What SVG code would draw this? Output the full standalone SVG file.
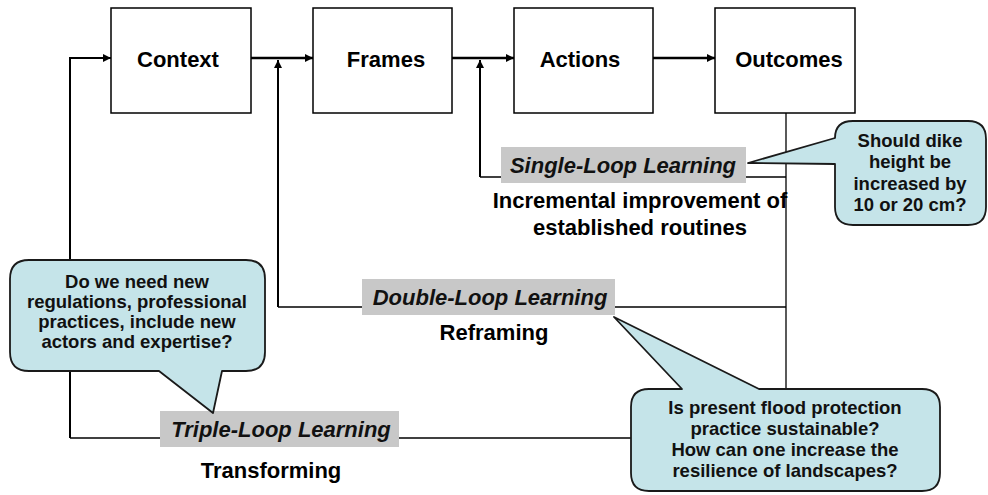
<svg xmlns="http://www.w3.org/2000/svg" width="988" height="495" viewBox="0 0 988 495">
  <defs>
    <marker id="arrow" viewBox="0 0 10 10" refX="10" refY="5" markerWidth="9" markerHeight="8" markerUnits="userSpaceOnUse" orient="auto">
      <path d="M0,0 L10,5 L0,10 z" fill="#000"/>
    </marker>
    <style>
      .box { fill: #fff; stroke: #000; stroke-width: 1.5; }
      .tag { fill: #c8c8c8; stroke: none; }
      .bubble { fill: #c5e4e9; stroke: #1a1a1a; stroke-width: 1.8; stroke-linejoin: round; }
      .flow { fill: none; stroke: #000; stroke-width: 2.5; }
      .shaft { fill: none; stroke: #000; stroke-width: 2; }
      .thin { fill: none; stroke: #000; stroke-width: 1.3; }
      .lbl { font-family: "Liberation Sans", Arial, sans-serif; font-weight: bold; font-size: 22px; fill: #000; text-anchor: middle; }
      .loop { font-family: "Liberation Sans", Arial, sans-serif; font-weight: bold; font-style: italic; font-size: 22px; fill: #111; text-anchor: middle; }
      .sub { font-family: "Liberation Sans", Arial, sans-serif; font-weight: bold; font-size: 22px; fill: #000; text-anchor: middle; }
      .q { font-family: "Liberation Sans", Arial, sans-serif; font-weight: bold; font-size: 18.5px; fill: #111; text-anchor: middle; }
    </style>
  </defs>

  <rect width="988" height="495" fill="#fff"/>

  <!-- connectors -->
  <g id="connectors">
    <path class="thin" d="M786,113 V438"/>
    <path class="thin" d="M786,438 H70"/>
    <path class="thin" d="M786,307 H278"/>
    <path class="thin" d="M786,177 H480"/>
    <path class="shaft" d="M70,438 V58 H111" marker-end="url(#arrow)"/>
    <path class="shaft" d="M278,307 V60" marker-end="url(#arrow)"/>
    <path class="shaft" d="M480,177 V60" marker-end="url(#arrow)"/>
    <path class="flow" d="M251,58 H313" marker-end="url(#arrow)"/>
    <path class="flow" d="M452,58 H514" marker-end="url(#arrow)"/>
    <path class="flow" d="M653,58 H715" marker-end="url(#arrow)"/>
  </g>

  <!-- process boxes -->
  <g id="context">
    <rect class="box" x="111" y="8" width="140" height="105"/>
    <text class="lbl" x="178" y="67">Context</text>
  </g>
  <g id="frames">
    <rect class="box" x="313" y="8" width="139" height="105"/>
    <text class="lbl" x="386" y="67">Frames</text>
  </g>
  <g id="actions">
    <rect class="box" x="514" y="8" width="139" height="105"/>
    <text class="lbl" x="580" y="67">Actions</text>
  </g>
  <g id="outcomes">
    <rect class="box" x="715" y="8" width="140" height="105"/>
    <text class="lbl" x="789" y="67">Outcomes</text>
  </g>

  <!-- learning loop labels -->
  <g id="single-loop">
    <rect class="tag" x="501" y="147" width="245" height="36"/>
    <text class="loop" x="623" y="173">Single-Loop Learning</text>
    <text class="sub" x="640" y="208">Incremental improvement of</text>
    <text class="sub" x="640" y="235">established routines</text>
  </g>
  <g id="double-loop">
    <rect class="tag" x="362" y="279" width="253" height="36"/>
    <text class="loop" x="490" y="305">Double-Loop Learning</text>
    <text class="sub" x="494" y="340">Reframing</text>
  </g>
  <g id="triple-loop">
    <rect class="tag" x="160" y="411" width="239" height="36"/>
    <text class="loop" x="281" y="437">Triple-Loop Learning</text>
    <text class="sub" x="271" y="478">Transforming</text>
  </g>

  <!-- question callouts -->
  <g id="callout-single">
    <path class="bubble" d="M853,121 H968 Q986,121 986,139 V207 Q986,225 968,225 H853 Q835,225 835,207 V164 L748,163 L835,138 Q835,121 853,121 Z"/>
    <text class="q" x="910" y="147">Should dike</text>
    <text class="q" x="910" y="168">height be</text>
    <text class="q" x="910" y="190">increased by</text>
    <text class="q" x="910" y="211">10 or 20 cm?</text>
  </g>
  <g id="callout-triple">
    <path class="bubble" d="M29,260 H246 Q265,260 265,279 V352 Q265,371 246,371 H222 L213,413 L159,371 H29 Q10,371 10,352 V279 Q10,260 29,260 Z"/>
    <text class="q" x="137" y="288">Do we need new</text>
    <text class="q" x="137" y="308">regulations, professional</text>
    <text class="q" x="137" y="328">practices, include new</text>
    <text class="q" x="137" y="348">actors and expertise?</text>
  </g>
  <g id="callout-double">
    <path class="bubble" d="M649,389 H682 L614,317 L759,389 H922 Q940,389 940,407 V473 Q940,491 922,491 H649 Q631,491 631,473 V407 Q631,389 649,389 Z"/>
    <text class="q" x="785" y="414">Is present flood protection</text>
    <text class="q" x="785" y="435">practice sustainable?</text>
    <text class="q" x="785" y="456">How can one increase the</text>
    <text class="q" x="785" y="477">resilience of landscapes?</text>
  </g>
</svg>
